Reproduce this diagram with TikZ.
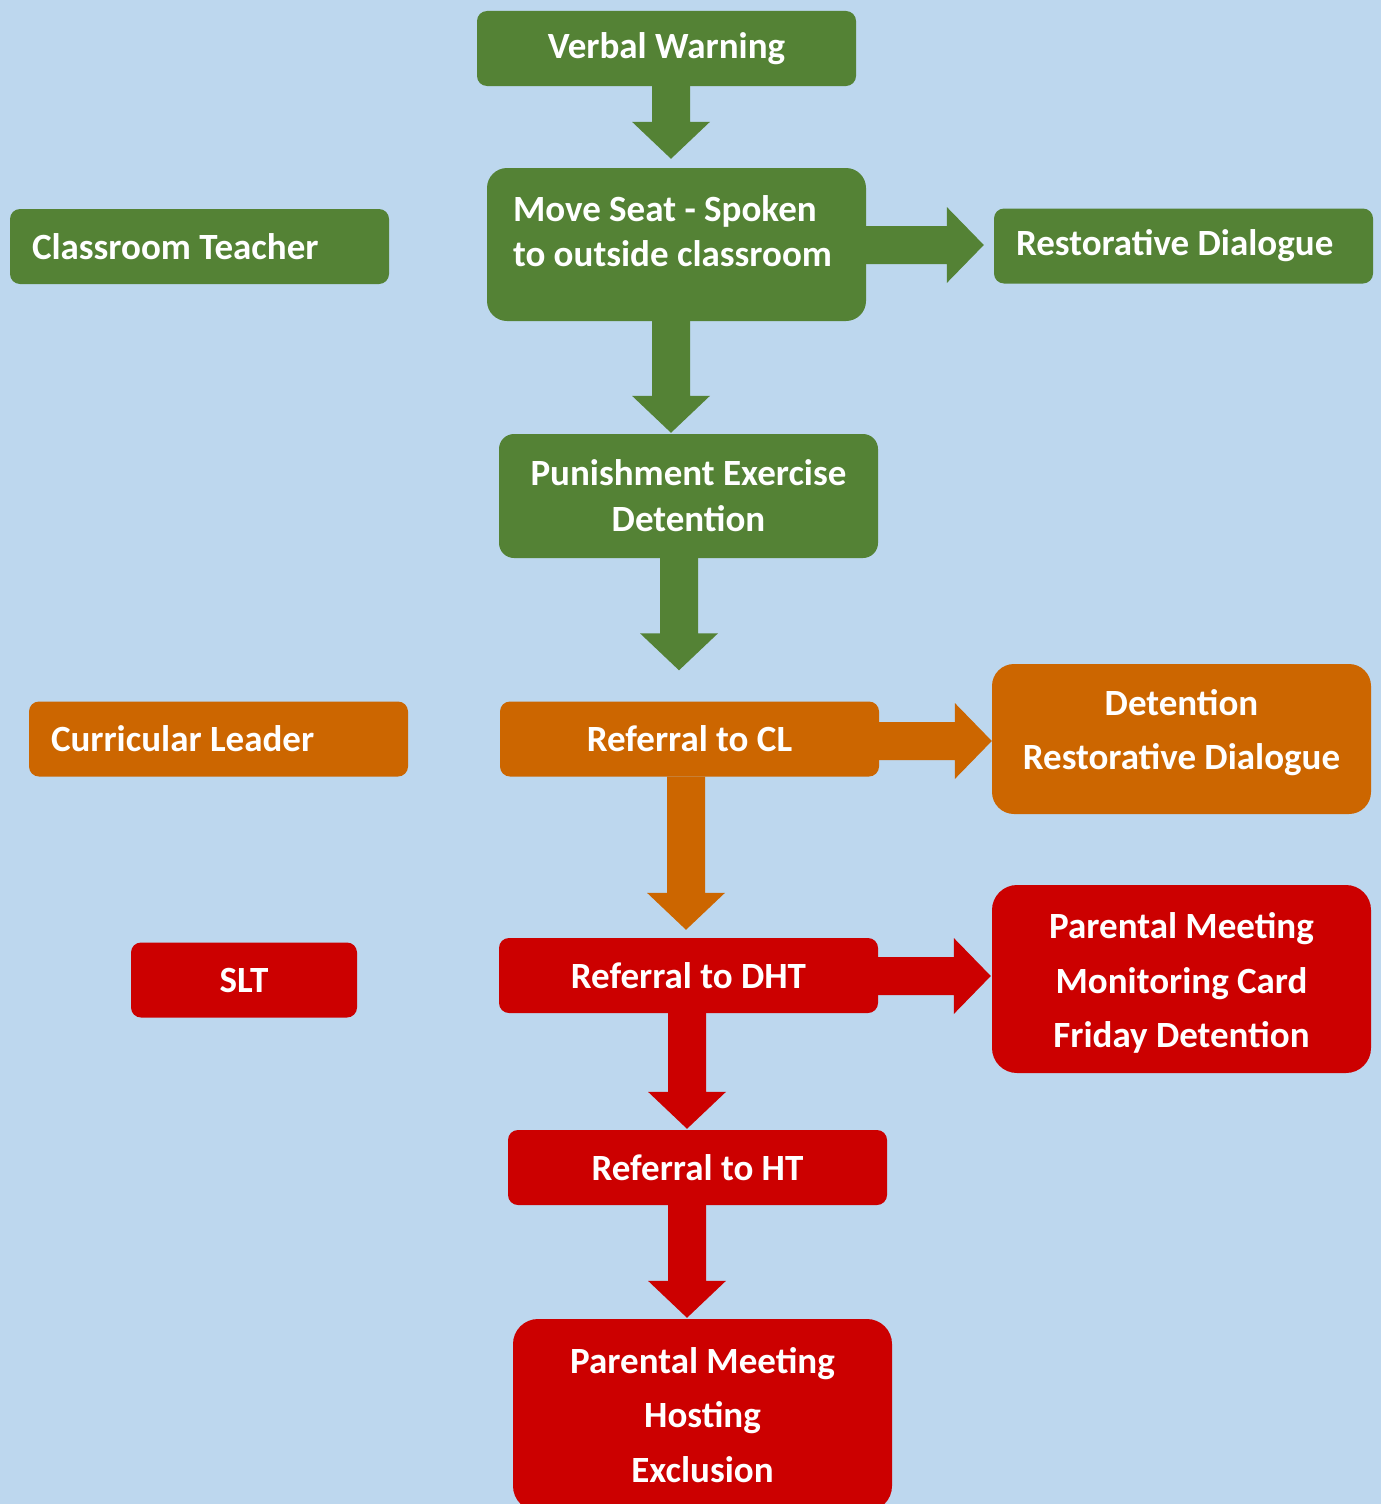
\documentclass[tikz,border=0pt]{standalone}
\usepackage{fontspec}
\setmainfont{Carlito}
\usetikzlibrary{calc}
\definecolor{bg}{HTML}{BDD7EE}
\definecolor{cgreen}{HTML}{548235}
\definecolor{corange}{HTML}{CC6600}
\definecolor{cred}{HTML}{CC0000}
% #1 colour, #2 x centre, #3 from node, #4 to node, #5 gap before target
\newcommand\blockdown[5]{%
 \fill[#1] let \p1=(#3.south), \p2=(#4.north) in
 ({(#2-19)*1pt},\y1) -- ({(#2+19)*1pt},\y1) -- ({(#2+19)*1pt},{\y2+(#5+37)*1pt})
 -- ({(#2+39)*1pt},{\y2+(#5+37)*1pt}) -- ({#2*1pt},{\y2+#5*1pt})
 -- ({(#2-39)*1pt},{\y2+(#5+37)*1pt}) -- ({(#2-19)*1pt},{\y2+(#5+37)*1pt}) -- cycle;}
% #1 colour, #2 y centre, #3 from node, #4 to node, #5 gap before target
\newcommand\blockright[5]{%
 \fill[#1] let \p1=(#3.east), \p2=(#4.west) in
 (\x1,{-(#2-19)*1pt}) -- ({\x2-(#5+37)*1pt},{-(#2-19)*1pt}) -- ({\x2-(#5+37)*1pt},{-(#2-38)*1pt})
 -- ({\x2-#5*1pt},{-#2*1pt}) -- ({\x2-(#5+37)*1pt},{-(#2+38)*1pt})
 -- ({\x2-(#5+37)*1pt},{-(#2+19)*1pt}) -- (\x1,{-(#2+19)*1pt}) -- cycle;}
\newcommand\lefttxt[2]{\makebox[#1][l]{#2}}
\begin{document}
\begin{tikzpicture}[x=1pt,y=-1pt,
  box/.style={inner sep=0pt, text=white, font=\fontsize{37}{46}\selectfont\bfseries,
    align=center, minimum width=379pt, minimum height=75pt, rounded corners=10pt},
  wide/.style={font=\fontsize{37}{54.5}\selectfont\bfseries}]
\useasboundingbox (0,0) rectangle (1381,1504);
\clip (0,0) rectangle (1381,1504);
\fill[bg] (0,0) rectangle (1381,1504);
% green
\node[box, fill=cgreen] (vw) at (666.5,48.5) {Verbal Warning};
\node[box, fill=cgreen, minimum height=153pt, rounded corners=20pt, align=left,
  font=\fontsize{37}{45}\selectfont\bfseries] (ms) at (676.5,244.5)
  {\lefttxt{327pt}{Move Seat - Spoken}\\\lefttxt{327pt}{to outside classroom}\\[-18pt]\mbox{}};
\node[box, fill=cgreen] (ct) at (199.5,246.5) {\lefttxt{335pt}{Classroom Teacher}};
\node[box, fill=cgreen] (rd) at (1183.5,246) {\lefttxt{335pt}{Restorative Dialogue}};
\node[box, fill=cgreen, minimum height=124pt, rounded corners=15pt] (pe) at (688.5,496)
  {Punishment Exercise\\Detention};
% orange
\node[box, fill=corange] (cl) at (689.5,739) {Referral to CL};
\node[box, fill=corange] (cu) at (218.5,739) {\lefttxt{335pt}{Curricular Leader}};
\node[box, fill=corange, wide, minimum height=150pt, rounded corners=22pt] (dr) at (1181.5,739)
  {Detention\\Restorative Dialogue\\[-35pt]\mbox{}};
% red
\node[box, fill=cred, minimum width=226pt] (slt) at (244,980) {SLT};
\node[box, fill=cred] (dht) at (688.5,975.5) {Referral to DHT};
\node[box, fill=cred, wide, minimum height=188pt, rounded corners=25pt] (pm) at (1181.5,979)
  {\rule{0pt}{34pt}Parental Meeting\\Monitoring Card\\Friday Detention};
\node[box, fill=cred] (ht) at (697.5,1167.5) {Referral to HT};
\node[box, fill=cred, wide, minimum height=192pt, rounded corners=25pt] (px) at (702.5,1415)
  {Parental Meeting\\Hosting\\Exclusion};
% block arrows
\blockdown{cgreen}{671}{vw}{ms}{9}
\blockdown{cgreen}{671}{ms}{pe}{1}
\blockdown{cgreen}{679}{pe}{cl}{31}
\blockdown{corange}{686}{cl}{dht}{8}
\blockdown{cred}{687}{dht}{ht}{1}
\blockdown{cred}{687}{ht}{px}{1}
\blockright{cgreen}{245}{ms}{rd}{10}
\blockright{corange}{741}{cl}{dr}{0}
\blockright{cred}{976}{dht}{pm}{1}
\end{tikzpicture}
\end{document}
